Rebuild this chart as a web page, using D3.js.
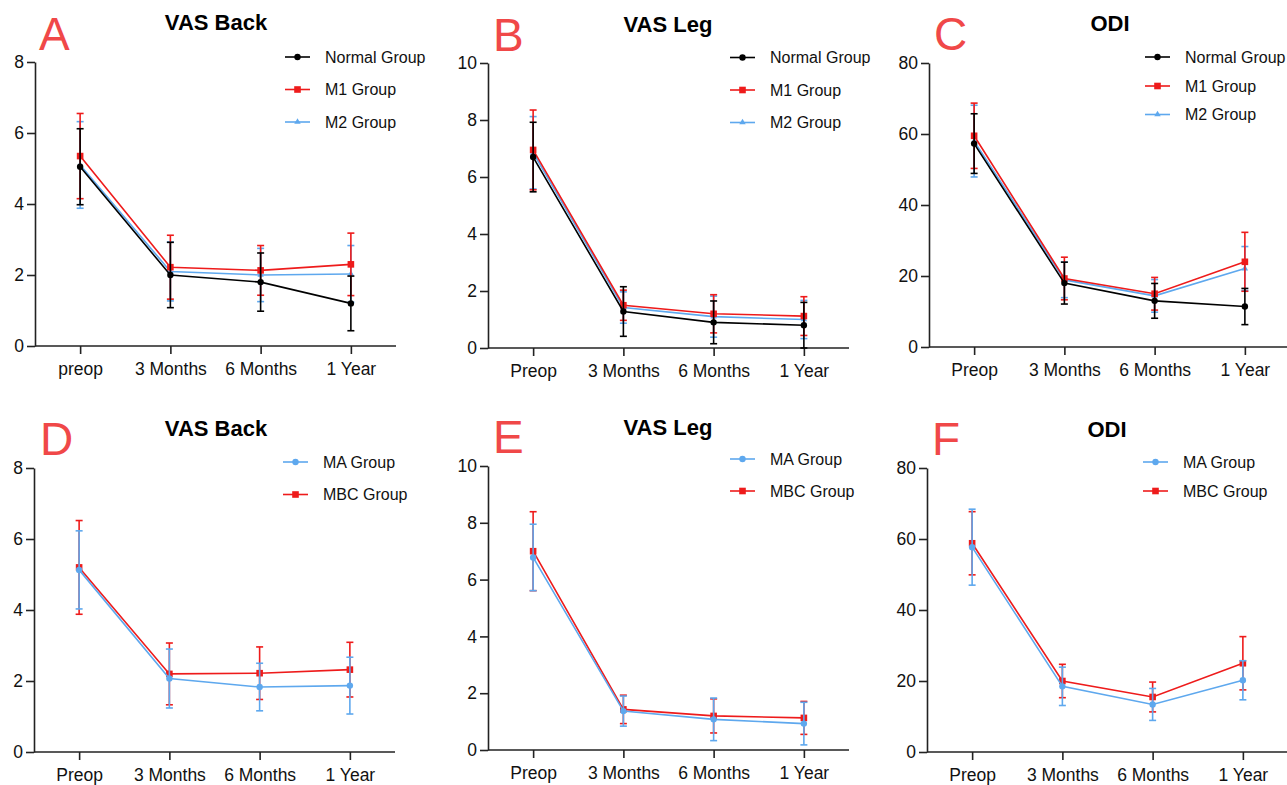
<!DOCTYPE html>
<html>
<head>
<meta charset="utf-8">
<script src="https://cdn.jsdelivr.net/npm/d3@7"></script>
<style>
  body { margin: 0; background: #fff; }
  text { font-family: "Liberation Sans", Arial, sans-serif; }
</style>
</head>
<body>
<div id="chart"></div>
<script>
// time points
const timesTop = ['preop', '3 Months', '6 Months', '1 Year']
const timesBottom = ['Preop', '3 Months', '6 Months', '1 Year']
const timesB = ['Preop', '3 Months', '6 Months', '1 Year']

// panel A - VAS Back (mean, sd)
const vasBackNormal = [5.05, 2.0, 1.8, 1.2]
const vasBackNormalSd = [1.07, 0.92, 0.82, 0.77]
const vasBackM1 = [5.35, 2.22, 2.13, 2.3]
const vasBackM1Sd = [1.2, 0.9, 0.7, 0.88]
const vasBackM2 = [5.1, 2.1, 2.0, 2.03]
const vasBackM2Sd = [1.22, 0.83, 0.75, 0.8]

// panel B - VAS Leg
const vasLegNormal = [6.7, 1.28, 0.9, 0.8]
const vasLegNormalSd = [1.22, 0.87, 0.75, 0.8]
const vasLegM1 = [6.95, 1.5, 1.2, 1.12]
const vasLegM1Sd = [1.4, 0.53, 0.67, 0.68]
const vasLegM2 = [6.85, 1.42, 1.1, 1.0]
const vasLegM2Sd = [1.27, 0.55, 0.72, 0.67]

// panel C - ODI
const odiNormal = [57.3, 18.0, 13.0, 11.4]
const odiNormalSd = [8.4, 5.9, 4.9, 5.1]
const odiM1 = [59.5, 19.3, 15.0, 24.0]
const odiM1Sd = [9.2, 6.0, 4.6, 8.3]
const odiM2 = [58.0, 18.9, 14.4, 22.1]
const odiM2Sd = [10.1, 5.0, 4.6, 6.2]

// panel D - VAS Back, MA vs MBC
const vasBackMA = [5.13, 2.07, 1.83, 1.87]
const vasBackMASd = [1.1, 0.83, 0.67, 0.8]
const vasBackMBC = [5.2, 2.2, 2.22, 2.32]
const vasBackMBCSd = [1.32, 0.87, 0.74, 0.77]

// panel E - VAS Leg, MA vs MBC
const vasLegMA = [6.78, 1.37, 1.08, 0.93]
const vasLegMASd = [1.17, 0.53, 0.75, 0.75]
const vasLegMBC = [7.0, 1.43, 1.2, 1.13]
const vasLegMBCSd = [1.39, 0.5, 0.6, 0.58]

// panel F - ODI, MA vs MBC
const odiMA = [57.7, 18.5, 13.4, 20.2]
const odiMASd = [10.7, 5.4, 4.5, 5.5]
const odiMBC = [58.8, 20.0, 15.5, 25.0]
const odiMBCSd = [8.9, 4.7, 4.2, 7.5]

const vasTicks = [0, 2, 4, 6, 8]
const legTicks = [0, 2, 4, 6, 8, 10]
const odiTicks = [0, 20, 40, 60, 80]

const black = "#000000", red = "#ee1b1b", blue = "#5ea8ee", letterRed = "#f04848"

const W = 1287, H = 785
const svg = d3.select("#chart").append("svg")
  .attr("width", W).attr("height", H)

const panels = [
  {letter: "A", title: "VAS Back", left: 35, top: 62, bottom: 346, titleX: 216, titleY: 30, letterX: 39, letterY: 50,
   max: 8, ticks: vasTicks, cats: timesTop, legX: 285, legY: [57, 89.5, 122],
   series: [
     {name: "Normal Group", mean: vasBackNormal, sd: vasBackNormalSd, color: black, shape: "circle"},
     {name: "M1 Group", mean: vasBackM1, sd: vasBackM1Sd, color: red, shape: "square"},
     {name: "M2 Group", mean: vasBackM2, sd: vasBackM2Sd, color: blue, shape: "triangle"}]},
  {letter: "B", title: "VAS Leg", left: 488, top: 63, bottom: 348, titleX: 668, titleY: 32, letterX: 493, letterY: 51,
   max: 10, ticks: legTicks, cats: timesB, legX: 730, legY: [57.5, 90, 122.5],
   series: [
     {name: "Normal Group", mean: vasLegNormal, sd: vasLegNormalSd, color: black, shape: "circle"},
     {name: "M1 Group", mean: vasLegM1, sd: vasLegM1Sd, color: red, shape: "square"},
     {name: "M2 Group", mean: vasLegM2, sd: vasLegM2Sd, color: blue, shape: "triangle"}]},
  {letter: "C", title: "ODI", left: 929, top: 63, bottom: 347, titleX: 1110, titleY: 31, letterX: 934, letterY: 50,
   max: 80, ticks: odiTicks, cats: timesB, legX: 1145, legY: [57, 86, 114.5],
   series: [
     {name: "Normal Group", mean: odiNormal, sd: odiNormalSd, color: black, shape: "circle"},
     {name: "M1 Group", mean: odiM1, sd: odiM1Sd, color: red, shape: "square"},
     {name: "M2 Group", mean: odiM2, sd: odiM2Sd, color: blue, shape: "triangle"}]},
  {letter: "D", title: "VAS Back", left: 34, top: 468, bottom: 752, titleX: 216, titleY: 436, letterX: 40, letterY: 455,
   max: 8, ticks: vasTicks, cats: timesBottom, legX: 283, legY: [462, 494.5],
   series: [
     {name: "MA Group", mean: vasBackMA, sd: vasBackMASd, color: blue, shape: "circle"},
     {name: "MBC Group", mean: vasBackMBC, sd: vasBackMBCSd, color: red, shape: "square"}]},
  {letter: "E", title: "VAS Leg", left: 488, top: 466, bottom: 750, titleX: 668, titleY: 435, letterX: 493, letterY: 453,
   max: 10, ticks: legTicks, cats: timesBottom, legX: 730, legY: [459, 491],
   series: [
     {name: "MA Group", mean: vasLegMA, sd: vasLegMASd, color: blue, shape: "circle"},
     {name: "MBC Group", mean: vasLegMBC, sd: vasLegMBCSd, color: red, shape: "square"}]},
  {letter: "F", title: "ODI", left: 927, top: 468, bottom: 752, titleX: 1107, titleY: 437, letterX: 932, letterY: 455,
   max: 80, ticks: odiTicks, cats: timesBottom, legX: 1143, legY: [462, 491],
   series: [
     {name: "MA Group", mean: odiMA, sd: odiMASd, color: blue, shape: "circle"},
     {name: "MBC Group", mean: odiMBC, sd: odiMBCSd, color: red, shape: "square"}]}
]

const axisW = 361

function drawMarker(g, shape, color, x, y) {
  if (shape == "circle") {
    g.append("circle").attr("cx", x).attr("cy", y).attr("r", 3.2).attr("fill", color)
  } else if (shape == "square") {
    g.append("rect").attr("x", x - 3.3).attr("y", y - 3.3).attr("width", 6.6).attr("height", 6.6).attr("fill", color)
  } else {
    g.append("path")
      .attr("d", d3.symbol().type(d3.symbolTriangle).size(18))
      .attr("transform", "translate(" + x + "," + y + ")")
      .attr("fill", color)
  }
}

panels.forEach(p => {
  const g = svg.append("g")

  const x = d3.scalePoint()
    .domain(p.cats)
    .range([p.left, p.left + axisW])
    .padding(0.5)
  const y = d3.scaleLinear()
    .domain([0, p.max])
    .range([p.bottom, p.top])

  // axes
  const yAxis = g.append("g")
    .attr("transform", "translate(" + p.left + ",0)")
    .call(d3.axisLeft(y).tickValues(p.ticks).tickSize(8).tickPadding(3).tickSizeOuter(0))
  const xAxis = g.append("g")
    .attr("transform", "translate(0," + p.bottom + ")")
    .call(d3.axisBottom(x).tickSize(8).tickPadding(9).tickSizeOuter(0))
  ;[yAxis, xAxis].forEach(a => {
    a.select(".domain").attr("stroke", "#222").attr("stroke-width", 1.6)
    a.selectAll(".tick line").attr("stroke", "#222").attr("stroke-width", 1.6)
    a.selectAll(".tick text").attr("fill", "#111").style("font-size", "17.5px")
      .style("font-family", "'Liberation Sans', Arial, sans-serif")
  })
  // x-axis domain should start at the y axis
  xAxis.select(".domain").attr("d", "M" + p.left + ",0H" + (p.left + axisW))

  // title and panel letter
  g.append("text").attr("x", p.titleX).attr("y", p.titleY)
    .attr("text-anchor", "middle").style("font-size", "22px").style("font-weight", "bold")
    .text(p.title)
  g.append("text").attr("x", p.letterX).attr("y", p.letterY)
    .style("font-size", "46px").attr("fill", letterRed)
    .text(p.letter)

  // series, first one on top
  const line = d3.line()
    .x((d, i) => x(p.cats[i]))
    .y(d => y(d))

  p.series.slice().reverse().forEach(s => {
    const sg = g.append("g")
    // error bars
    s.mean.forEach((m, i) => {
      const cx = x(p.cats[i])
      const lo = Math.max(0, m - s.sd[i]), hi = m + s.sd[i]
      sg.append("line").attr("x1", cx).attr("x2", cx).attr("y1", y(lo)).attr("y2", y(hi))
        .attr("stroke", s.color).attr("stroke-width", 1.6)
      ;[lo, hi].forEach(v => {
        sg.append("line").attr("x1", cx - 3.5).attr("x2", cx + 3.5).attr("y1", y(v)).attr("y2", y(v))
          .attr("stroke", s.color).attr("stroke-width", 1.6)
      })
    })
    sg.append("path").datum(s.mean)
      .attr("d", line).attr("fill", "none")
      .attr("stroke", s.color).attr("stroke-width", 1.6)
    s.mean.forEach((m, i) => drawMarker(sg, s.shape, s.color, x(p.cats[i]), y(m)))
  })

  // legend
  p.series.forEach((s, i) => {
    const ly = p.legY[i]
    g.append("line").attr("x1", p.legX).attr("x2", p.legX + 25).attr("y1", ly).attr("y2", ly)
      .attr("stroke", s.color).attr("stroke-width", 1.6)
    drawMarker(g, s.shape, s.color, p.legX + 12.5, ly)
    g.append("text").attr("x", p.legX + 40).attr("y", ly).attr("dy", "0.35em")
      .style("font-size", "16px").attr("fill", "#111")
      .text(s.name)
  })
})
</script>
</body>
</html>
